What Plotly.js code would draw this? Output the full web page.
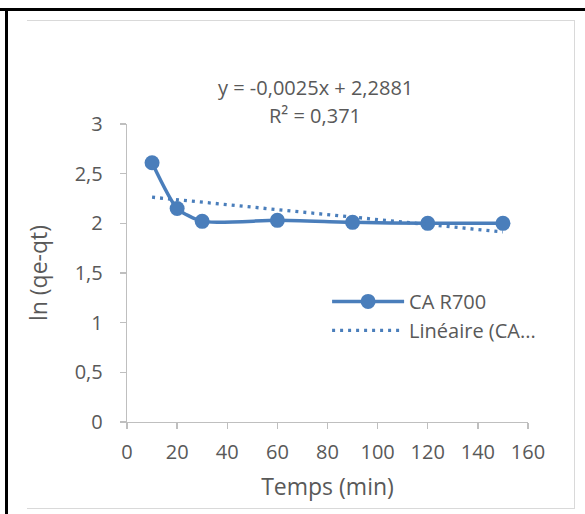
<!DOCTYPE html>
<html>
<head>
<meta charset="utf-8">
<script src="https://cdn.plot.ly/plotly-3.0.1.min.js"></script>
<style>
  html, body { margin: 0; padding: 0; background: #ffffff; }
  #wrap { position: relative; width: 585px; height: 514px; overflow: hidden; }
  #chart { position: absolute; left: 0; top: 0; width: 585px; height: 514px; }
  .ln { position: absolute; pointer-events: none; }
</style>
</head>
<body>
<div id="wrap">
  <div id="chart"></div>
  <div class="ln" style="left:0;top:8px;width:585px;height:3px;background:#000;"></div>
  <div class="ln" style="left:5px;top:8px;width:3px;height:506px;background:#000;"></div>
  <div class="ln" style="left:27px;top:20px;width:548px;height:1px;background:#d9d9d9;"></div>
  <div class="ln" style="left:574px;top:20px;width:1px;height:489px;background:#d9d9d9;"></div>
  <div class="ln" style="left:27px;top:508px;width:548px;height:1px;background:#d9d9d9;"></div>
</div>
<script>
// Data
const timeMin = [10, 20, 30, 60, 90, 120, 150];
const lnQeQt = [2.61, 2.15, 2.02, 2.03, 2.01, 2.00, 2.00];
const seriesName = "CA R700";
const trendName = "Linéaire (CA...";
const trendSlope = -0.0025;
const trendIntercept = 2.2881;
const trendR2 = 0.371;
const xTicks = [0, 20, 40, 60, 80, 100, 120, 140, 160];
const yTicks = [0, 0.5, 1, 1.5, 2, 2.5, 3];
const yTickText = ["0", "0,5", "1", "1,5", "2", "2,5", "3"];

const blue = "#4a7ebb";
const txt = "#595959";
const axisCol = "#bfbfbf";
const font = "'Open Sans', 'Noto Sans', sans-serif";

const trendX = [timeMin[0], timeMin[timeMin.length - 1]];
const trendY = trendX.map(x => trendIntercept + trendSlope * x);

const fmt = (v, d) => v.toFixed(d).replace(".", ",");
const eqText = "y = " + fmt(trendSlope, 4) + "x + " + fmt(trendIntercept, 4);
const r2Text = "R² = " + fmt(trendR2, 3);

const data = [
  {
    x: timeMin, y: lnQeQt, name: seriesName, type: "scatter", mode: "lines+markers",
    line: { color: blue, width: 3.5, shape: "spline", smoothing: 0.6 },
    marker: { color: blue, size: 15 },
    legendgroup: "a"
  },
  {
    x: trendX, y: trendY, name: trendName, type: "scatter", mode: "lines",
    line: { color: blue, width: 3.3, dash: "3px,5px" },
    legendgroup: "b"
  }
];

const layout = {
  width: 585, height: 514,
  margin: { l: 127, r: 57, t: 124, b: 92 },
  paper_bgcolor: "rgba(0,0,0,0)",
  plot_bgcolor: "#ffffff",
  font: { family: font, color: txt, size: 20 },
  showlegend: true,
  legend: {
    x: 0.499, y: 0.356, xanchor: "left", yanchor: "middle",
    bgcolor: "rgba(0,0,0,0)", font: { family: font, size: 20, color: txt },
    itemwidth: 72, traceorder: "grouped", tracegroupgap: 0
  },
  xaxis: {
    range: [0, 160], tickvals: xTicks, ticktext: xTicks.map(String),
    showgrid: false, zeroline: false, showline: true, linecolor: axisCol, linewidth: 1.3,
    ticks: "outside", ticklen: 6, tickcolor: axisCol, tickwidth: 1.3,
    tickfont: { family: font, size: 20, color: txt },
    ticklabelstandoff: 6,
    title: { text: "Temps (min)", font: { family: font, size: 23, color: txt }, standoff: 14 },
    fixedrange: true
  },
  yaxis: {
    range: [0, 3], tickvals: yTicks, ticktext: yTickText,
    showgrid: false, zeroline: false, showline: true, linecolor: axisCol, linewidth: 1.3,
    ticks: "outside", ticklen: 6, tickcolor: axisCol, tickwidth: 1.3,
    tickfont: { family: font, size: 20, color: txt },
    ticklabelstandoff: 13,
    title: { text: "ln (qe-qt)", font: { family: font, size: 23, color: txt }, standoff: 20 },
    fixedrange: true
  },
  annotations: [
    { xref: "paper", yref: "paper", x: 0.47, y: 1.121, text: eqText, showarrow: false,
      xanchor: "center", yanchor: "middle", font: { family: font, size: 20, color: txt } },
    { xref: "paper", yref: "paper", x: 0.47, y: 1.027, text: r2Text, showarrow: false,
      xanchor: "center", yanchor: "middle", font: { family: font, size: 20, color: txt } }
  ]
};

Plotly.newPlot("chart", data, layout, { displayModeBar: false, staticPlot: true });
</script>
</body>
</html>
